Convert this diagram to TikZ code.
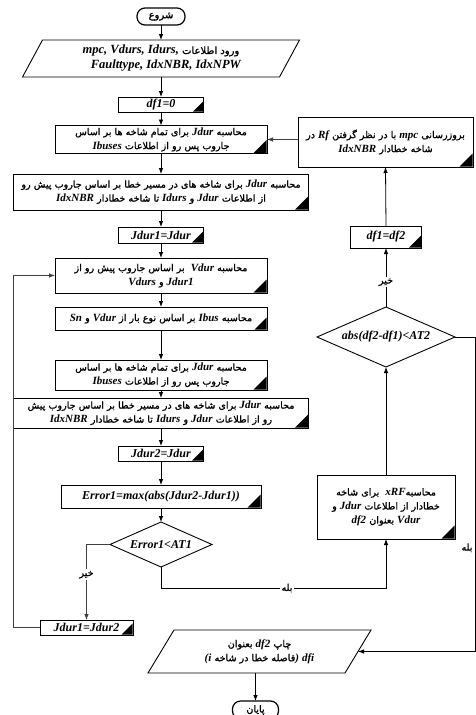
\documentclass[tikz,border=0pt]{standalone}
\usepackage{fontspec}
\usetikzlibrary{shapes.geometric,arrows.meta}
\TeXXeTstate=1
\newfontfamily\fafont[Script=Arabic,FakeBold=1.2]{DejaVu Sans}
\newfontfamily\latf{Liberation Serif}
\newcommand\lt[1]{\beginL{\latf\bfseries\itshape\fontsize{11}{13}\selectfont #1}\endL{}}
\newcommand\ltb[1]{\beginL{\latf\bfseries\itshape\fontsize{12.5}{14}\selectfont #1}\endL{}}
\newcommand\rl[1]{\beginR #1\endR}
\newcommand\ltx{\latf\bfseries\itshape\fontsize{12}{14}\selectfont}
\newcommand\crn[2]{\fill[black] ([shift={(-0.45pt,0.45pt)}]#1.south east) -- ++(-#2pt,0pt) -- ++(#2pt,#2pt) -- cycle;}
\begin{document}
\begin{tikzpicture}[x=1pt,y=-1pt,
  base/.style={font=\fafont\fontsize{9.6}{14}\selectfont, align=center, inner sep=1pt, outer sep=0pt},
  proc/.style={base, draw, line width=0.9pt, rectangle},
  lat/.style={font=\ltx},
  dec/.style={base, diamond, draw, line width=0.9pt, aspect=2.3, inner sep=0pt},
  term/.style={base, draw, line width=1.2pt, rounded corners=8pt},
  io/.style={base},
  arr/.style={line width=0.8pt, -{Latex[length=6pt,width=4.5pt]}},
  lbl/.style={base, fill=white, inner sep=1.5pt},
]
\fill[white] (0,0) rectangle (476,715);
\useasboundingbox (0,0) rectangle (476,715);

% left column
\node[term, minimum width=48, minimum height=17, font=\fafont\fontsize{10}{12}\selectfont] (start) at (161,16.5) {\rl{شروع}};
\node[io, minimum width=257, minimum height=37, font=\fafont\fontsize{10}{15}\selectfont] (inp) at (161,58.5)
  {\rl{ورود اطلاعات \ltb{mpc, Vdurs, Idurs,}}\\\ \ \ \ltb{Faulttype, IdxNBR, IdxNPW}};
\draw[line width=0.9pt] ([xshift=10]inp.north west) -- ([xshift=10]inp.north east)
  -- ([xshift=-10]inp.south east) -- ([xshift=-10]inp.south west) -- cycle;
\node[proc, lat, minimum width=85, minimum height=15] (df10) at (161,104.5) {df1=0};
\node[proc, minimum width=212, minimum height=28] (b1) at (161,139.5)
  {\rl{محاسبه \lt{Jdur} برای تمام شاخه ها بر اساس}\\\rl{جاروب پس رو از اطلاعات \lt{Ibuses}}};
\node[proc, minimum width=295, minimum height=36] (b2) at (161,192)
  {\rl{محاسبه \lt{Jdur} برای شاخه های در مسیر خطا بر اساس جاروب پیش رو}\\\rl{از اطلاعات \lt{Jdur} و \lt{Idurs} تا شاخه خطادار \lt{IdxNBR}}};
\node[proc, lat, minimum width=85, minimum height=16] (j1) at (161,235) {Jdur1=Jdur};
\node[proc, minimum width=212, minimum height=35] (bv) at (161,275.5)
  {\rl{محاسبه \lt{Vdur}\ \ بر اساس جاروب پیش رو از}\\\rl{\lt{Jdur1} و \lt{Vdurs}}};
\node[proc, minimum width=212, minimum height=23] (bi) at (161,318.5)
  {\rl{محاسبه \lt{Ibus} بر اساس نوع بار از \lt{Vdur} و \lt{Sn}}};
\node[proc, minimum width=212, minimum height=30] (b3) at (161,375)
  {\rl{محاسبه \lt{Jdur} برای تمام شاخه ها بر اساس}\\\rl{جاروب پس رو از اطلاعات \lt{Ibuses}}};
\node[proc, minimum width=295, minimum height=30] (b4) at (161,413)
  {\rl{محاسبه \lt{Jdur} برای شاخه های در مسیر خطا بر اساس جاروب پیش}\\\rl{رو از اطلاعات \lt{Jdur} و \lt{Idurs} تا شاخه خطادار \lt{IdxNBR}}};
\node[proc, lat, minimum width=85, minimum height=15] (j2) at (161,453.5) {Jdur2=Jdur};
\node[proc, lat, minimum width=200, minimum height=23] (err) at (161,496.5) {Error1=max(abs(Jdur2-Jdur1))};
\node[dec, lat, minimum width=102, minimum height=45] (d1) at (161,544.5) {Error1<AT1};
\node[proc, lat, minimum width=93, minimum height=15] (j12) at (86.5,627.5) {Jdur1=Jdur2};
\node[io, minimum width=197, minimum height=43] (out) at (259.5,651.5)
  {\rl{چاپ \lt{df2} بعنوان}\\\rl{\lt{dfi} \lt{)}فاصله خطا در شاخه \lt{(i}}};
\draw[line width=0.9pt] ([xshift=13]out.north west) -- ([xshift=13]out.north east)
  -- ([xshift=-13]out.south east) -- ([xshift=-13]out.south west) -- cycle;
\node[term, minimum width=46, minimum height=18] (end) at (255.5,710) {\rl{پایان}};

% right column
\node[proc, minimum width=175, minimum height=50] (upd) at (385.5,142)
  {\rl{بروزرسانی \lt{mpc} با در نظر گرفتن \lt{Rf} در}\\\rl{شاخه خطادار \lt{IdxNBR}}};
\node[proc, lat, minimum width=71, minimum height=22] (df12) at (386,237) {df1=df2};
\node[dec, lat, minimum width=138, minimum height=60] (d2) at (386,337) {abs(df2-df1)<AT2};
\node[proc, minimum width=138, minimum height=64] (xrf) at (386,507)
  {\rl{محاسبه\lt{xRF}\ \ برای شاخه}\\\rl{خطادار از اطلاعات \lt{Jdur} و}\\\rl{\lt{Vdur} بعنوان \lt{df2}}};

% black corner triangles
\crn{df10}{10}
\crn{b1}{13}
\crn{b2}{13}
\crn{j1}{11}
\crn{bv}{13}
\crn{bi}{12}
\crn{b3}{13}
\crn{b4}{13}
\crn{j2}{11}
\crn{err}{13}
\crn{j12}{11}
\crn{upd}{13}
\crn{df12}{12}
\crn{xrf}{13}

% connectors
\draw[arr] (start.south) -- (inp.north);
\draw[arr] (inp.south) -- (df10.north);
\draw[arr] (df10.south) -- (b1.north);
\draw[arr] (b1.south) -- (b2.north);
\draw[arr] (b2.south) -- (j1.north);
\draw[arr] (j1.south) -- (bv.north);
\draw[arr] (bv.south) -- (bi.north);
\draw[arr] (bi.south) -- (b3.north);
\draw[arr] (b3.south) -- (b4.north);
\draw[arr] (b4.south) -- (j2.north);
\draw[arr] (j2.south) -- (err.north);
\draw[arr] (err.south) -- (d1.north);
\draw[arr, draw=black!75] (d1.west) -| node[lbl, pos=0.7]{\rl{خیر}} (j12.north);
\coordinate (yc) at (386,588);
\draw[arr] (d1.south) |- node[lbl, pos=0.78]{\rl{بله}} (yc) -- (xrf.south);
\coordinate (lc) at (13,275.5);
\draw[arr, draw=black!75] (j12.west) -| (lc) -- (bv.west);
\draw[arr] (xrf.north) -- (d2.south);
\draw[arr] (d2.north) -- node[lbl, pos=0.42]{\rl{خیر}} (df12.south);
\draw[arr] (df12.north) -- (upd.south);
\draw[arr, draw=black!75] (upd.west |- b1.east) -- (b1.east);
\coordinate (rc) at (475,651.5);
\draw[arr] (d2.east) -| node[lbl, pos=0.835, xshift=-8]{\rl{بله}} (rc) -- (out.east);
\draw[arr] (end.north |- out.south) -- (end.north);
\end{tikzpicture}
\end{document}
